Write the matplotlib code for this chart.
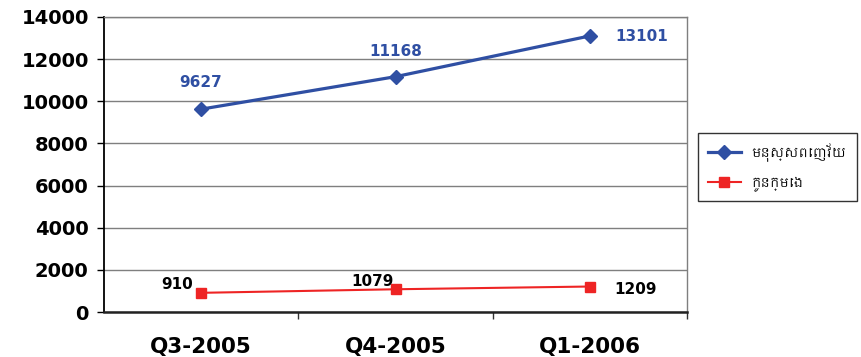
import matplotlib
matplotlib.use("Agg")
import matplotlib.pyplot as plt
from matplotlib import font_manager
from matplotlib.ft2font import FT2Font

categories = ["Q3-2005", "Q4-2005", "Q1-2006"]
adults = [9627, 11168, 13101]
children = [910, 1079, 1209]
series_names = ["មនុស្សពេញវ័យ", "កូនក្មេង"]
yticks = [0, 2000, 4000, 6000, 8000, 10000, 12000, 14000]

# find a font covering Khmer, if any
khmer_family = None
for f in font_manager.fontManager.ttflist:
    if "khmer" in f.name.lower():
        khmer_family = f.name
        break
if khmer_family is None:
    for f in font_manager.fontManager.ttflist:
        try:
            cm = FT2Font(f.fname).get_charmap()
            if 0x1798 in cm:
                khmer_family = f.name
                break
        except Exception:
            pass
leg_families = ([khmer_family] if khmer_family else []) + ["DejaVu Sans"]

blue = "#2F4FA3"
red = "#EE2424"
W, H = 861, 357
fig = plt.figure(figsize=(W / 100, H / 100), dpi=100)
ax = fig.add_axes([104 / W, 1 - 312 / H, (687 - 104) / W, (312 - 17) / H])

x = list(range(len(categories)))
l1, = ax.plot(x, adults, color=blue, lw=2.3, marker="D", ms=7.5, zorder=3)
l2, = ax.plot(x, children, color=red, lw=1.5, marker="s", ms=7, zorder=3)

ax.set_xlim(-0.5, 2.5)
ax.set_ylim(0, 14000)
ax.set_yticks(yticks)
ax.set_yticklabels([str(v) for v in yticks], fontsize=14, fontweight="bold",
                   family="DejaVu Sans")
ax.set_xticks(x)
ax.set_xticklabels(categories, fontsize=15.5, fontweight="bold", family="DejaVu Sans")
ax.set_xticks([0.5, 1.5, 2.5], minor=True)
ax.tick_params(axis="x", which="major", length=0, pad=18)
ax.tick_params(axis="x", which="minor", length=5, width=1, direction="out", color="#333333")
ax.tick_params(axis="y", length=5, width=1, direction="out", pad=6)
ax.grid(axis="y", color="#7f7f7f", lw=1)
ax.set_axisbelow(True)
for s in ["top", "right"]:
    ax.spines[s].set_color("#7f7f7f")
    ax.spines[s].set_linewidth(1)
ax.spines["left"].set_color("black")
ax.spines["left"].set_linewidth(1.3)
ax.spines["bottom"].set_color("#222222")
ax.spines["bottom"].set_linewidth(1.8)

lab = dict(fontsize=11, fontweight="bold", family="DejaVu Sans")
ax.annotate(str(adults[0]), (0, adults[0]), xytext=(-1, 27), textcoords="offset pixels",
            ha="center", va="center", color=blue, **lab)
ax.annotate(str(adults[1]), (1, adults[1]), xytext=(0, 25), textcoords="offset pixels",
            ha="center", va="center", color=blue, **lab)
ax.annotate(str(adults[2]), (2, adults[2]), xytext=(52, -1), textcoords="offset pixels",
            ha="center", va="center", color=blue, **lab)
ax.annotate(str(children[0]), (0, children[0]), xytext=(-24, 8), textcoords="offset pixels",
            ha="center", va="center", color="black", **lab)
ax.annotate(str(children[1]), (1, children[1]), xytext=(-23, 8), textcoords="offset pixels",
            ha="center", va="center", color="black", **lab)
ax.annotate(str(children[2]), (2, children[2]), xytext=(46, -3), textcoords="offset pixels",
            ha="center", va="center", color="black", **lab)

leg = fig.legend([l1, l2], series_names, loc="upper left",
                 bbox_to_anchor=(698 / W, 1 - 133 / H),
                 prop={"family": leg_families, "size": 9},
                 frameon=True, fancybox=False, edgecolor="black",
                 handlelength=2.6, labelspacing=1.2, borderpad=0.8,
                 handletextpad=0.9, borderaxespad=0)
leg.get_frame().set_linewidth(1)

fig.savefig("out.png", dpi=100)
